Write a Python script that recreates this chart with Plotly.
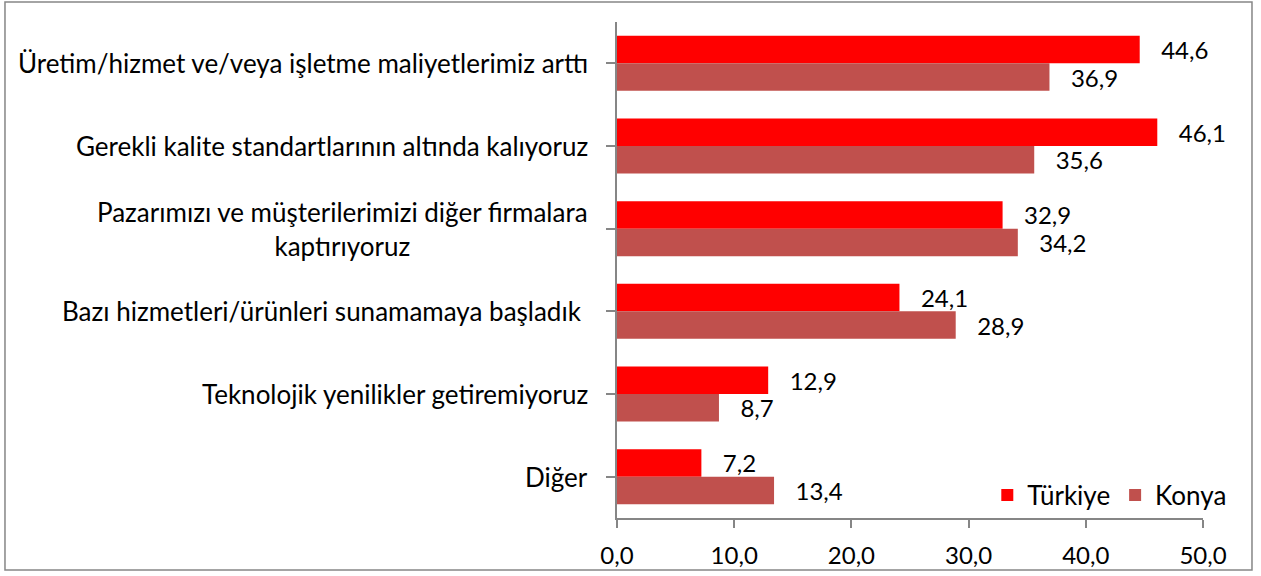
import plotly.graph_objects as go

categories = [
    "Üretim/hizmet ve/veya işletme maliyetlerimiz arttı",
    "Gerekli kalite standartlarının altında kalıyoruz",
    "Pazarımızı ve müşterilerimizi diğer firmalara<br>kaptırıyoruz",
    "Bazı hizmetleri/ürünleri sunamamaya başladık ",
    "Teknolojik yenilikler getiremiyoruz",
    "Diğer",
]
turkiye = [44.6, 46.1, 32.9, 24.1, 12.9, 7.2]
konya = [36.9, 35.6, 34.2, 28.9, 8.7, 13.4]
series_names = ["Türkiye", "Konya"]
x_ticks = [0, 10, 20, 30, 40, 50]

FONT = "Lato"
FS = 26
GREY = "#868686"
cat_ids = list(range(len(categories)))

fig = go.Figure()
for name, vals, col in [(series_names[0], turkiye, "#FF0000"), (series_names[1], konya, "#C0504D")]:
    fig.add_trace(go.Bar(
        y=cat_ids, x=vals, name=name, orientation="h",
        marker=dict(color=col, line=dict(width=0)),
        texttemplate="\u00a0\u00a0\u00a0%{x:.1f}",
        textposition="outside", cliponaxis=False, constraintext="none",
        textfont=dict(family=FONT, size=24, color="#000000"),
        hoverinfo="skip",
    ))

annotations = []
for i, c in enumerate(categories):
    annotations.append(dict(
        x=0, xref="paper", y=i, yref="y", text=c, showarrow=False,
        xanchor="right", yanchor="middle", align="center", xshift=-27,
        font=dict(family=FONT, size=FS, color="#000000"),
    ))

fig.update_layout(
    template="none",
    width=1261, height=576, autosize=False,
    margin=dict(l=617, r=58, t=22, b=58, pad=0),
    paper_bgcolor="white", plot_bgcolor="white",
    separators=",.",
    barmode="group", bargap=0.335, bargroupgap=0,
    font=dict(family=FONT, size=FS, color="#000000"),
    showlegend=True,
    legend=dict(orientation="h", x=1.05, xanchor="right", y=0.046, yanchor="middle",
                traceorder="normal", font=dict(family=FONT, size=FS, color="#000000"),
                bgcolor="rgba(0,0,0,0)", itemwidth=30),
    xaxis=dict(range=[0, 50], tickvals=x_ticks, tickformat=".1f", automargin=False,
               showgrid=False, zeroline=False, showline=True, linecolor=GREY, linewidth=1.5,
               ticks="outside", ticklen=8, tickcolor=GREY, tickwidth=1.5,
               ticklabelstandoff=7,
               tickfont=dict(family=FONT, size=24, color="#000000")),
    yaxis=dict(tickvals=cat_ids, range=[len(categories) - 0.5, -0.5], automargin=False,
               showticklabels=False, showgrid=False, zeroline=False,
               showline=True, linecolor=GREY, linewidth=1.5,
               ticks="outside", ticklen=9, tickcolor=GREY, tickwidth=1.5,
               tickmode="array", tickson="boundaries", type="linear"),
    annotations=annotations,
    shapes=[dict(type="rect", xref="paper", yref="paper",
                 x0=-1.0444, x1=1.0836, y0=-0.1048, y1=1.0403,
                 line=dict(color=GREY, width=1.5), fillcolor="rgba(0,0,0,0)", layer="above")],
)

fig.write_html("out.html", config={"displayModeBar": False},
               post_script="document.body.style.margin='0';document.body.style.overflow='hidden';")
